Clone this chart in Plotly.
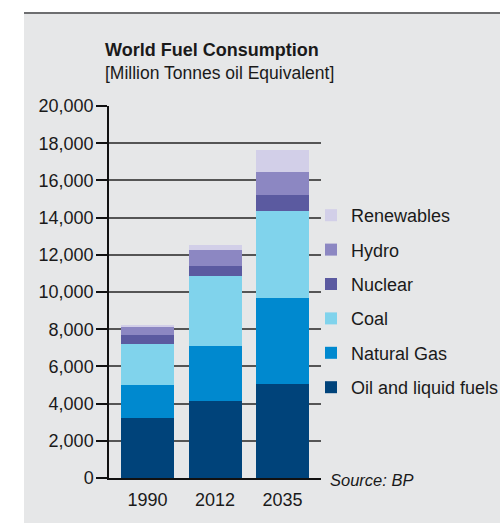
import plotly.graph_objects as go

# World fuel consumption, million tonnes oil equivalent
years = ["1990", "2012", "2035"]
oil = [3200, 4130, 5040]
natural_gas = [1780, 2990, 4620]
coal = [2200, 3760, 4680]
nuclear = [490, 540, 860]
hydro = [450, 860, 1240]
renewables = [60, 270, 1180]

series_names = ["Oil and liquid fuels", "Natural Gas", "Coal", "Nuclear", "Hydro", "Renewables"]
series_values = [oil, natural_gas, coal, nuclear, hydro, renewables]
series_colors = ["#00437a", "#0089cf", "#80d3ec", "#5b5aa0", "#8c87c2", "#d2cfe8"]

y_ticks = list(range(0, 20001, 2000))

FONT = "Liberation Sans, Arial, Helvetica, sans-serif"
TEXT = "#1a1a1a"

fig = go.Figure()
n = len(series_names)
for i, (name, vals, col) in enumerate(zip(series_names, series_values, series_colors)):
    fig.add_trace(go.Bar(
        x=years, y=vals, name=name, marker=dict(color=col, line=dict(width=0)),
        legendgroup=name, legendrank=n - i, hoverinfo="skip",
    ))

W, H = 500, 523
L, R, T, B = 109, 179, 106, 45
pw, ph = W - L - R, H - T - B


def px_x(px):
    return (px - L) / pw


def px_y(py):
    return (H - B - py) / ph


fig.update_layout(
    width=W, height=H,
    margin=dict(l=L, r=R, t=T, b=B, pad=0, autoexpand=False),
    barmode="stack", bargap=0.215,
    paper_bgcolor="white", plot_bgcolor="rgba(0,0,0,0)",
    font=dict(family=FONT, size=18, color=TEXT),
    showlegend=True,
    legend=dict(
        x=px_x(311), xanchor="left", y=px_y(197), yanchor="top",
        traceorder="grouped", tracegroupgap=8,
        bgcolor="rgba(0,0,0,0)", font=dict(size=18, color=TEXT),
    ),
    xaxis=dict(
        type="category", range=[-0.57, 2.57], showgrid=False,
        showline=True, linecolor="#111111", linewidth=1.5,
        ticks="", ticklabelstandoff=5, tickfont=dict(size=18),
        fixedrange=True, automargin=False,
    ),
    yaxis=dict(
        range=[0, 20000], tickvals=y_ticks, tickformat=",d",
        showline=True, linecolor="#111111", linewidth=1.5,
        ticks="outside", ticklen=11, tickwidth=1.5, tickcolor="#111111",
        ticklabelstandoff=-1,
        showgrid=True, gridcolor="#555555", gridwidth=1.5,
        zeroline=False, tickfont=dict(size=18), fixedrange=True,
        automargin=False,
    ),
    shapes=[
        # grey panel behind the chart
        dict(type="rect", xref="paper", yref="paper",
             x0=px_x(24), x1=px_x(W + 5), y0=px_y(H + 5), y1=px_y(13),
             fillcolor="#e6e7e8", line=dict(width=0), layer="below"),
        # rule along the top of the panel
        dict(type="line", xref="paper", yref="paper",
             x0=px_x(24), x1=px_x(W + 5), y0=px_y(13), y1=px_y(13),
             line=dict(color="#6d6e70", width=2), layer="below"),
    ],
    annotations=[
        dict(text="<b>World Fuel Consumption</b>", xref="paper", yref="paper",
             x=px_x(103), y=px_y(50), xanchor="left", yanchor="middle",
             showarrow=False, font=dict(size=18, color=TEXT)),
        dict(text="[Million Tonnes oil Equivalent]", xref="paper", yref="paper",
             x=px_x(103), y=px_y(73), xanchor="left", yanchor="middle",
             showarrow=False, font=dict(size=17.5, color=TEXT)),
        dict(text="<i>Source: BP</i>", xref="paper", yref="paper",
             x=px_x(328), y=px_y(480), xanchor="left", yanchor="middle",
             showarrow=False, font=dict(size=16.5, color=TEXT)),
    ],
)

fig.write_html("out.html", config={"displayModeBar": False})
